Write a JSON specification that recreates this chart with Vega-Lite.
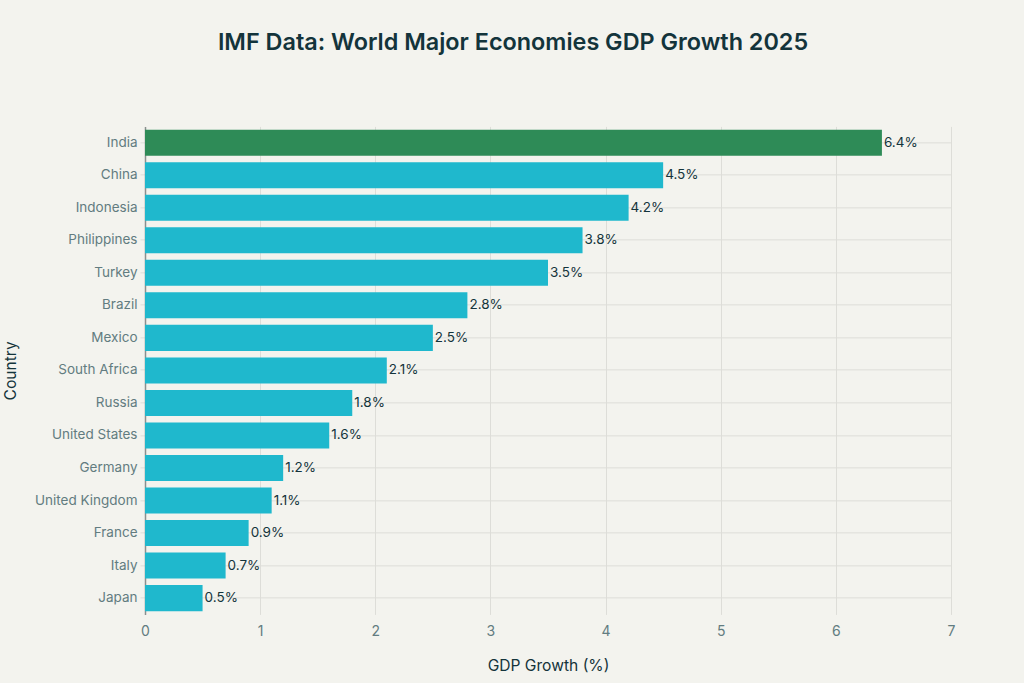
{
  "$schema": "https://vega.github.io/schema/vega-lite/v6.json",
  "autosize": "none",
  "padding": {"left": 145, "top": 126.4, "right": 73, "bottom": 68.6},
  "width": 806,
  "height": 488,
  "background": "#F3F3EE",
  "title": {
    "text": "IMF Data: World Major Economies GDP Growth 2025",
    "anchor": "middle",
    "frame": "group",
    "dx": -35,
    "offset": 71,
    "font": "Inter",
    "fontSize": 23.4,
    "fontWeight": 600,
    "color": "#13343B"
  },
  "config": {
    "view": {"stroke": null},
    "font": "Inter"
  },
  "data": {
    "values": [
      {"Country": "India", "Growth": 6.4, "Label": "6.4%"},
      {"Country": "China", "Growth": 4.5, "Label": "4.5%"},
      {"Country": "Indonesia", "Growth": 4.2, "Label": "4.2%"},
      {"Country": "Philippines", "Growth": 3.8, "Label": "3.8%"},
      {"Country": "Turkey", "Growth": 3.5, "Label": "3.5%"},
      {"Country": "Brazil", "Growth": 2.8, "Label": "2.8%"},
      {"Country": "Mexico", "Growth": 2.5, "Label": "2.5%"},
      {"Country": "South Africa", "Growth": 2.1, "Label": "2.1%"},
      {"Country": "Russia", "Growth": 1.8, "Label": "1.8%"},
      {"Country": "United States", "Growth": 1.6, "Label": "1.6%"},
      {"Country": "Germany", "Growth": 1.2, "Label": "1.2%"},
      {"Country": "United Kingdom", "Growth": 1.1, "Label": "1.1%"},
      {"Country": "France", "Growth": 0.9, "Label": "0.9%"},
      {"Country": "Italy", "Growth": 0.7, "Label": "0.7%"},
      {"Country": "Japan", "Growth": 0.5, "Label": "0.5%"}
    ]
  },
  "encoding": {
    "y": {
      "field": "Country",
      "type": "nominal",
      "sort": null,
      "scale": {"paddingInner": 0.2, "paddingOuter": 0.1},
      "axis": {
        "title": "Country",
        "titleFont": "Inter",
        "titleFontSize": 15.6,
        "titleFontWeight": 400,
        "titleColor": "#13343B",
        "titleX": -127,
        "labelFont": "Inter",
        "labelFontSize": 13.5,
        "labelColor": "#627C80",
        "labelPadding": 3,
        "tickSize": 5,
        "tickColor": "#DDDDD8",
        "domainColor": "#8A8F8F",
        "domainWidth": 1.5,
        "grid": true,
        "gridColor": "#DDDDD8",
        "zindex": 0
      }
    },
    "x": {
      "field": "Growth",
      "type": "quantitative",
      "scale": {"domain": [0, 7]},
      "axis": {
        "title": "GDP Growth (%)",
        "titleFont": "Inter",
        "titleFontSize": 15.6,
        "titleFontWeight": 400,
        "titleColor": "#13343B",
        "titleY": 44,
        "labelFont": "Inter",
        "labelFontSize": 14,
        "labelColor": "#627C80",
        "labelPadding": 10,
        "labelFlush": false,
        "values": [0, 1, 2, 3, 4, 5, 6, 7],
        "format": "d",
        "domain": false,
        "ticks": false,
        "grid": true,
        "gridColor": "#DDDDD8"
      }
    }
  },
  "layer": [
    {
      "mark": {"type": "bar", "strokeWidth": 0},
      "encoding": {
        "color": {
          "condition": {"test": "datum.Country === 'India'", "value": "#2E8B57"},
          "value": "#1FB8CD"
        }
      }
    },
    {
      "mark": {"type": "text", "align": "left", "baseline": "middle", "dx": 2, "font": "Inter", "fontSize": 13.5, "color": "#13343B"},
      "encoding": {"text": {"field": "Label", "type": "nominal"}}
    }
  ]
}
